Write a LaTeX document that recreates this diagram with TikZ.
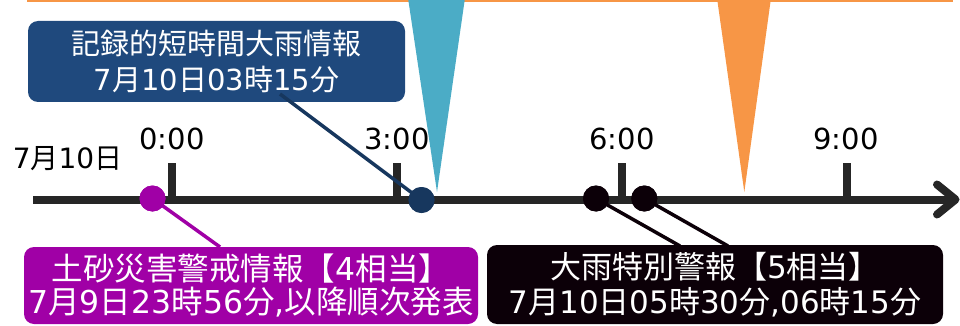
\documentclass[tikz,border=0pt]{standalone}
\usepackage{fontspec}
\setmainfont{DejaVu Sans}
\newfontfamily\jp{Noto Sans CJK JP}
\newcommand\J[1]{{\jp #1}}
\definecolor{linegray}{HTML}{262626}
\definecolor{topline}{HTML}{F79646}
\definecolor{bluetri}{HTML}{4BACC6}
\definecolor{navybox}{HTML}{1F497D}
\definecolor{navydark}{HTML}{17375E}
\definecolor{purp}{HTML}{A000A6}
\definecolor{blk}{HTML}{0C0008}
\begin{document}
\begin{tikzpicture}[x=1pt,y=-1pt,
  timeline/.style={line width=8pt, draw=linegray},
  tickmark/.style={line width=8pt, draw=linegray},
  ticklabel/.style={inner sep=0pt, font=\fontsize{29}{35}\selectfont, text=black},
  evdot/.style={circle, inner sep=0pt, minimum size=26pt},
  infobox/.style={rounded corners=10pt, inner sep=0pt, text=white, align=center},
  conn/.style={line width=3.5pt}]
\useasboundingbox (0,0) rectangle (960,326);
% top line and triangles
\draw[topline, line width=1.6pt] (27,0.8) -- (953,0.8);
\fill[bluetri] (408,-2) -- (465,-2) -- (437,192) -- cycle;
\fill[topline] (717,-2) -- (771,-2) -- (744.3,192) -- cycle;
% timeline
\draw[timeline] (33,199.5) -- (953,199.5);
\draw[timeline, line cap=round, line join=round] (937,184.5) -- (955.5,199.5) -- (937,214.5);
\foreach \x in {172,397,622,847} \draw[tickmark] (\x,163) -- (\x,199);
\node[ticklabel] (t0) at (172,139) {0:00};
\node[ticklabel] (t3) at (397,139) {3:00};
\node[ticklabel] (t6) at (622,139) {6:00};
\node[ticklabel] (t9) at (846,139) {9:00};
\node[inner sep=0pt, font=\fontsize{28}{34}\selectfont] (day) at (67.5,159) {7\J{月}10\J{日}};
% boxes
\node[infobox, fill=navybox, minimum width=377pt, minimum height=81pt,
  font=\fontsize{29}{35.5}\selectfont] (bluebox) at (216.5,61.5)
  {\J{記録的短時間大雨情報}\\7\J{月}10\J{日}03\J{時}15\J{分}};
\node[infobox, fill=purp, minimum width=454pt, minimum height=77pt,
  font=\fontsize{31.5}{33.5}\selectfont] (purplebox) at (251,285.5)
  {\J{土砂災害警戒情報【}4\J{相当】}\\7\J{月}9\J{日}23\J{時}56\J{分},\J{以降順次発表}};
\node[infobox, fill=blk, minimum width=456pt, minimum height=79pt,
  font=\fontsize{31}{35.5}\selectfont] (blackbox) at (715,284.5)
  {\J{大雨特別警報【}5\J{相当】}\\7\J{月}10\J{日}05\J{時}30\J{分},06\J{時}15\J{分}};
% dots
\node[evdot, fill=purp] (pdot) at (152.5,198.5) {};
\node[evdot, fill=navydark] (bdot) at (421.5,200) {};
\node[evdot, fill=blk] (kdot1) at (596,198.5) {};
\node[evdot, fill=blk] (kdot2) at (644.3,198.5) {};
% connectors
\coordinate (bc) at (280,94);
\coordinate (pc) at (220,247);
\coordinate (kc1) at (680,246);
\coordinate (kc2) at (728,246);
\draw[conn, navydark] (bc) -- (bdot.center);
\draw[conn, purp] (pdot.center) -- (pc);
\draw[conn, blk] (kdot1.center) -- (kc1);
\draw[conn, blk] (kdot2.center) -- (kc2);
\node[evdot, fill=purp] at (pdot) {};
\node[evdot, fill=navydark] at (bdot) {};
\node[evdot, fill=blk] at (kdot1) {};
\node[evdot, fill=blk] at (kdot2) {};
\end{tikzpicture}
\end{document}
